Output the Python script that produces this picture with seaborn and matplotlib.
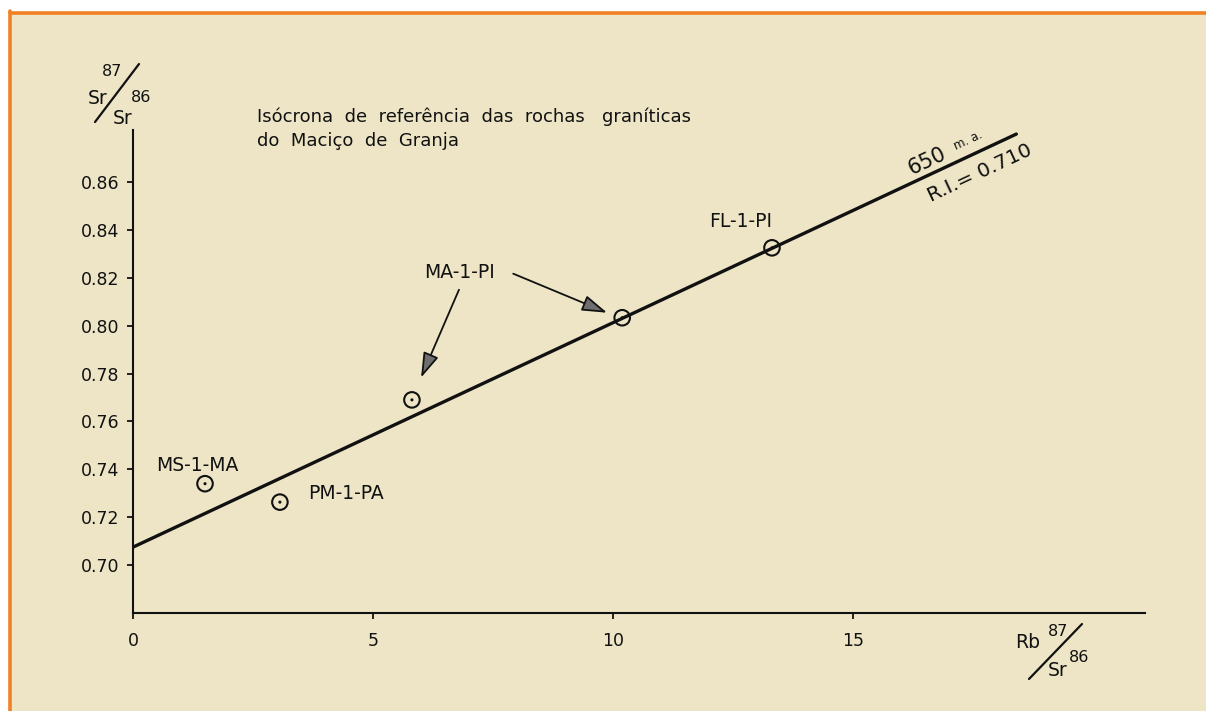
import numpy as np
import pandas as pd
import matplotlib
matplotlib.use("Agg")
import matplotlib.pyplot as plt
import seaborn as sns
from matplotlib.patches import Rectangle
from matplotlib.lines import Line2D

# ---- data ----
samples = ["MS-1-MA", "PM-1-PA", "MA-1-PI", "MA-1-PI", "FL-1-PI"]
rb_sr = [1.50, 3.06, 5.81, 10.19, 13.31]
sr_sr = [0.734, 0.7263, 0.769, 0.8033, 0.8325]
iso_x = [0.0, 18.4]
iso_y = [0.7075, 0.880]
x_ticks = [0, 5, 10, 15]
y_ticks = [0.70, 0.72, 0.74, 0.76, 0.78, 0.80, 0.82, 0.84, 0.86]
title_lines = ["Isócrona  de  referência  das  rochas   graníticas",
               "do  Maciço  de  Granja"]

PAPER = "#EDE5C5"
ORANGE = "#F28024"
INK = "#111111"

sns.set_theme(style="white")
plt.rcParams["font.family"] = ["DejaVu Sans"]

W, H = 1206, 711
fig = plt.figure(figsize=(W / 100, H / 100), dpi=100, facecolor="white")

# paper + orange frame (top and left)
fig.patches.append(Rectangle((9 / W, 0), 1 - 9 / W, 1 - 12 / H, transform=fig.transFigure,
                             facecolor=PAPER, edgecolor="none", zorder=-5))
fig.lines.append(Line2D([9.5 / W, 1], [1 - 12.5 / H, 1 - 12.5 / H], transform=fig.transFigure,
                        color=ORANGE, lw=2.6, zorder=-4))
fig.lines.append(Line2D([9.5 / W, 9.5 / W], [0, 1 - 11 / H], transform=fig.transFigure,
                        color=ORANGE, lw=2.6, zorder=-4))

ax = fig.add_axes([133 / W, 98 / H, (1145 - 133) / W, (613 - 130) / H])
ax.set_facecolor("none")
ax.set_zorder(2)

df = pd.DataFrame({"x": rb_sr, "y": sr_sr, "sample": samples})
line_df = pd.DataFrame({"x": iso_x, "y": iso_y})

sns.lineplot(data=line_df, x="x", y="y", ax=ax, color=INK, lw=2.4, zorder=2)
sns.scatterplot(data=df, x="x", y="y", ax=ax, marker="o", s=125, facecolor="none",
                edgecolor=INK, linewidth=1.5, zorder=3)
sns.scatterplot(data=df, x="x", y="y", ax=ax, marker="o", s=5, color=INK,
                edgecolor="none", zorder=4)

ax.set_xlim(0, 21.08)
ax.set_ylim(0.68, 0.8817)
ax.set_xticks(x_ticks)
ax.set_xticklabels([str(t) for t in x_ticks])
ax.set_yticks(y_ticks)
ax.set_yticklabels([f"{t:.2f}" for t in y_ticks])
ax.set_xlabel("")
ax.set_ylabel("")
for s in ["top", "right"]:
    ax.spines[s].set_visible(False)
for s in ["left", "bottom"]:
    ax.spines[s].set_color(INK)
    ax.spines[s].set_linewidth(1.5)
ax.tick_params(axis="both", which="major", direction="out", length=4, width=1.3,
               colors=INK, labelsize=12.5, pad=6, left=True, bottom=True)
ax.tick_params(axis="x", pad=10)

# sample labels
lab_style = dict(fontsize=13.5, color=INK, ha="center", va="center")
ax.text(1.35, 0.7417, "MS-1-MA", **lab_style)
ax.text(4.44, 0.7300, "PM-1-PA", **lab_style)
ax.text(6.81, 0.8221, "MA-1-PI", **lab_style)
ax.text(12.65, 0.8433, "FL-1-PI", **lab_style)

arrow = dict(arrowstyle="-|>,head_length=1.1,head_width=0.35", facecolor="#6e6e6e",
             edgecolor=INK, lw=1.3, shrinkA=0, shrinkB=0, mutation_scale=14)
ax.annotate("", xy=(6.00, 0.7783), xytext=(6.79, 0.815), arrowprops=arrow)
ax.annotate("", xy=(9.875, 0.8054), xytext=(7.92, 0.8217), arrowprops=arrow)

# isochron annotations, rotated along the line
ang = np.degrees(np.arctan2(iso_y[1] - iso_y[0], iso_x[1] - iso_x[0]))
rot = dict(rotation=ang, transform_rotates_text=True, rotation_mode="anchor",
           ha="center", va="center", color=INK)
ax.text(16.54, 0.8688, "650", fontsize=15, **rot)
ax.text(17.40, 0.8773, "m. a.", fontsize=8.5, **rot)
ax.text(17.65, 0.8638, "R.I.= 0.710", fontsize=14.5, **rot)

# title
fig.text(257 / W, 1 - 117 / H, title_lines[0], fontsize=13, color=INK, ha="left", va="center")
fig.text(257 / W, 1 - 141 / H, title_lines[1], fontsize=13, color=INK, ha="left", va="center")

# y-axis label (87Sr / 86Sr)
def ftxt(px, py, s, size):
    fig.text(px / W, 1 - py / H, s, fontsize=size, color=INK, ha="center", va="center")

ftxt(112, 71, "87", 11.5)
ftxt(98, 98, "Sr", 13.5)
ftxt(141, 97, "86", 11.5)
ftxt(123, 118, "Sr", 13.5)
fig.lines.append(Line2D([95 / W, 139 / W], [1 - 122 / H, 1 - 64 / H], transform=fig.transFigure,
                        color=INK, lw=1.6))

# x-axis label (87Rb / 86Sr)
ftxt(1028, 643, "Rb", 13.5)
ftxt(1058, 631, "87", 11.5)
ftxt(1079, 657, "86", 11.5)
ftxt(1058, 670, "Sr", 13.5)
fig.lines.append(Line2D([1029 / W, 1082 / W], [1 - 679 / H, 1 - 624 / H], transform=fig.transFigure,
                        color=INK, lw=1.6))

fig.savefig("out.png", dpi=100, facecolor=fig.get_facecolor())
